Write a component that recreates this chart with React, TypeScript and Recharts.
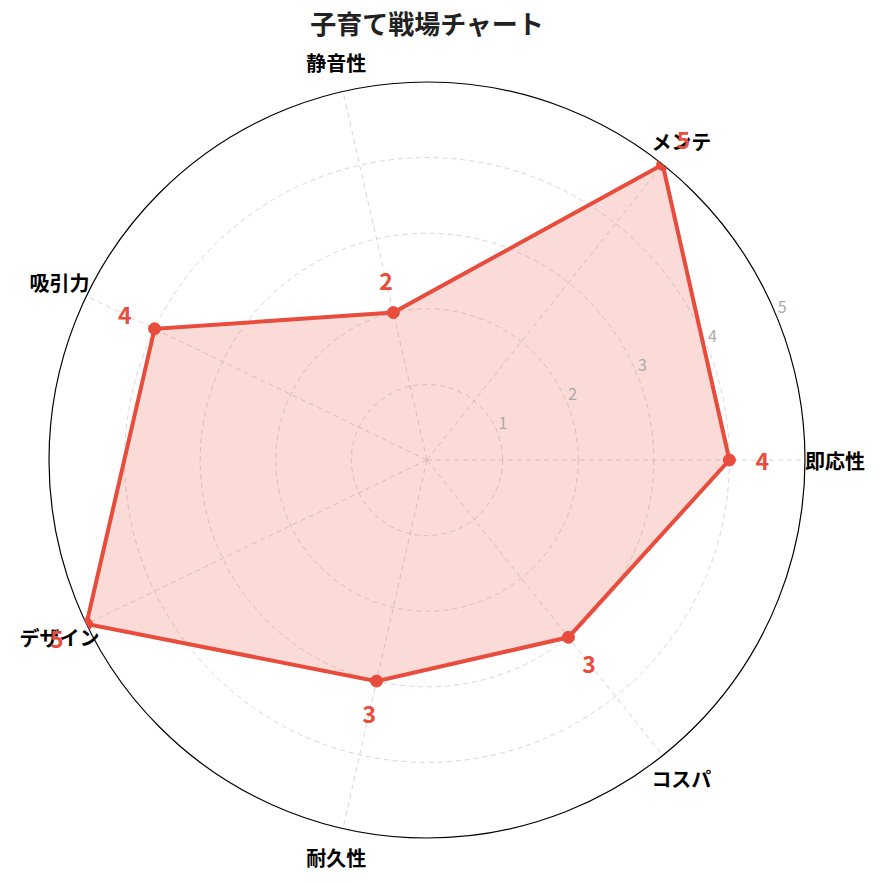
import * as React from "react";
import {
  RadarChart,
  Radar,
  PolarGrid,
  PolarAngleAxis,
  PolarRadiusAxis,
} from "recharts";

// chart data
const categories = ["即応性", "メンテ", "静音性", "吸引力", "デザイン", "耐久性", "コスパ"];
const scores = [4, 5, 2, 4, 5, 3, 3];
const radiusTicks = [1, 2, 3, 4, 5];
const title = "子育て戦場チャート";

const data = categories.map((name, i) => ({ name, score: scores[i] }));

const CX = 427;
const CY = 460;
const OUTER = 378;
const STEP = 360 / categories.length;
const RED = "#e74c3c";
const FONT = "'Noto Sans CJK JP', 'DejaVu Sans', sans-serif";
const RAD = Math.PI / 180;

const polar = (r: number, angle: number) => ({
  x: CX + r * Math.cos(-angle * RAD),
  y: CY + r * Math.sin(-angle * RAD),
});

// category label, on the same spoke as the data point with that index
const AngleTick = ({ index, payload }: any) => {
  const p = polar(408, index * STEP);
  return (
    <text
      x={p.x}
      y={p.y}
      textAnchor="middle"
      dominantBaseline="central"
      fontSize={20}
      fontWeight="bold"
      fontFamily={FONT}
      fill="#000"
    >
      {payload.value}
    </text>
  );
};

const RadiusTick = ({ x, y, payload }: any) => (
  <text
    x={x + 6}
    y={y - 9}
    textAnchor="middle"
    dominantBaseline="central"
    fontSize={16}
    fontFamily={FONT}
    fill="#aaaaaa"
  >
    {payload.value}
  </text>
);

// dots are clipped to the outer circle like the polygon
const PointDot = ({ cx, cy, index }: any) => (
  <circle
    key={`dot-${index}`}
    cx={cx}
    cy={cy}
    r={6}
    fill={RED}
    stroke={RED}
    clipPath="url(#polarClip)"
  />
);

const ValueLabel = ({ cx, cy, index, value }: any) => {
  const dx = cx - CX;
  const dy = cy - CY;
  const len = Math.hypot(dx, dy) || 1;
  const x = cx + (dx / len) * 33;
  const y = cy + (dy / len) * 33;
  const v = Array.isArray(value) ? value[1] : value;
  return (
    <text
      key={`val-${index}`}
      x={x}
      y={y}
      textAnchor="middle"
      dominantBaseline="central"
      fontSize={23}
      fontWeight="bold"
      fontFamily={FONT}
      fill={RED}
    >
      {v}
    </text>
  );
};

export default function App() {
  return (
    <div style={{ width: 883, height: 883, position: "relative", background: "#fff" }}>
      <style>{`body{margin:0} .clipped{clip-path:url(#polarClip)}`}</style>
      <div
        style={{
          position: "absolute",
          top: 5,
          left: 0,
          width: 854,
          textAlign: "center",
          fontFamily: FONT,
          fontWeight: "bold",
          fontSize: 26,
          color: "#222",
          lineHeight: "36px",
        }}
      >
        {title}
      </div>
      <RadarChart
        width={883}
        height={883}
        data={data}
        cx={CX}
        cy={CY}
        outerRadius={OUTER}
        startAngle={-STEP}
        endAngle={360 - STEP}
        margin={{ top: 0, right: 0, bottom: 0, left: 0 }}
      >
        <defs>
          <clipPath id="polarClip">
            <circle cx={CX} cy={CY} r={OUTER} />
          </clipPath>
        </defs>
        <PolarGrid
          gridType="circle"
          polarRadius={radiusTicks.slice(0, 4).map((t) => (t / 5) * OUTER)}
          stroke="#d6d6d6"
          strokeDasharray="5 4"
          strokeWidth={1}
        />
        <PolarGrid
          gridType="circle"
          polarRadius={[OUTER]}
          radialLines={false}
          stroke="#000"
          strokeWidth={1.2}
        />
        <PolarAngleAxis
          dataKey="name"
          tick={<AngleTick />}
          tickLine={false}
          axisLine={false}
        />
        <PolarRadiusAxis
          angle={22.5}
          domain={[0, 5]}
          ticks={radiusTicks}
          tick={<RadiusTick />}
          axisLine={false}
          tickLine={false}
        />
        <Radar
          className="clipped"
          dataKey="score"
          stroke={RED}
          strokeWidth={4}
          fill={RED}
          fillOpacity={0.2}
          dot={<PointDot />}
          isAnimationActive={false}
        />
        <Radar
          dataKey="score"
          stroke="none"
          fill="none"
          dot={<ValueLabel />}
          isAnimationActive={false}
        />
      </RadarChart>
    </div>
  );
}
